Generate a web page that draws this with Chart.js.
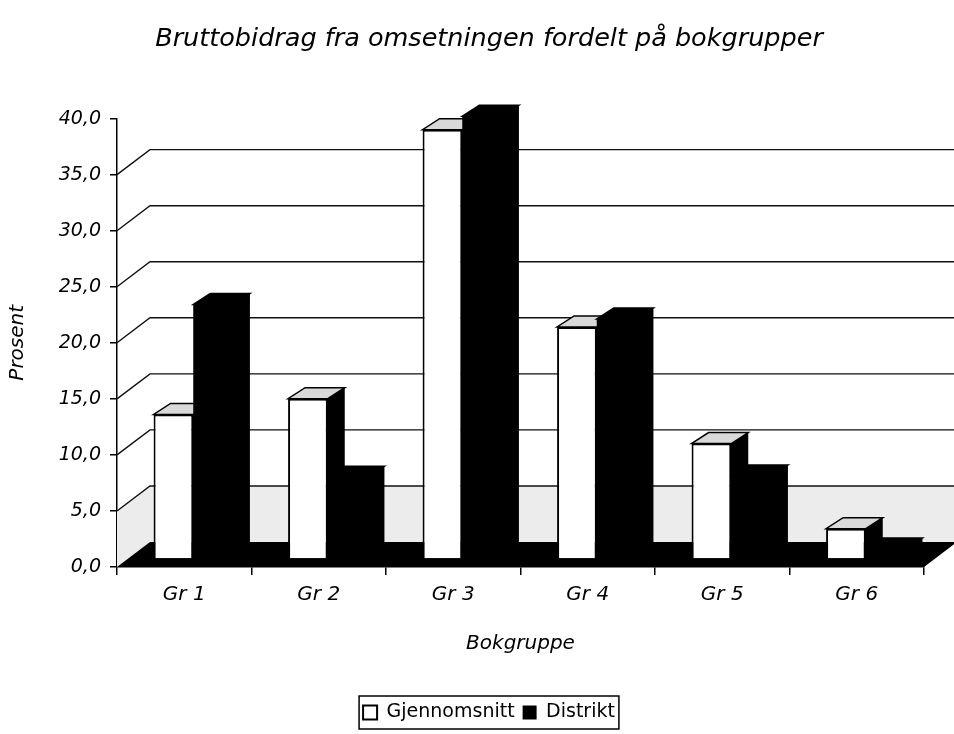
<!DOCTYPE html>
<html>
<head>
<meta charset="utf-8">
<script src="https://cdn.jsdelivr.net/npm/chart.js@4.4.1/dist/chart.umd.min.js"></script>
<style>
  html, body { margin: 0; padding: 0; background: #ffffff; }
  #wrap { width: 954px; height: 734px; }
</style>
</head>
<body>
<div id="wrap"><canvas id="c" width="954" height="734"></canvas></div>
<script>
const categories = ['Gr 1', 'Gr 2', 'Gr 3', 'Gr 4', 'Gr 5', 'Gr 6'];
const gjennomsnitt = [12.9, 14.3, 38.3, 20.7, 10.3, 2.7];
const distrikt = [22.7, 7.3, 39.5, 21.4, 7.4, 0.9];
const yTickLabels = ['0,0', '5,0', '10,0', '15,0', '20,0', '25,0', '30,0', '35,0', '40,0'];
const wallGridValues = [5, 10, 15, 20, 25, 30, 35];

const FONT = "'DejaVu Sans', 'Liberation Sans', sans-serif";
const WALL = { dx: 33, dy: -25 };
const BAR_SHIFT = { x: 9, y: -8 };
const FACE = { dx: 17, dy: -11 };

function drawFaces(chart, index) {
  const ctx = chart.ctx;
  const ds = chart.data.datasets[index];
  chart.getDatasetMeta(index).data.forEach(el => {
    const p = el.getProps(['x', 'y', 'base', 'width'], true);
    const l = p.x - p.width / 2, r = p.x + p.width / 2;
    ctx.fillStyle = '#000';
    ctx.beginPath();
    ctx.moveTo(r - 1.5, p.y);
    ctx.lineTo(r + FACE.dx, p.y + FACE.dy);
    ctx.lineTo(r + FACE.dx, p.base + FACE.dy);
    ctx.lineTo(r - 1.5, p.base);
    ctx.closePath();
    ctx.fill();
    ctx.fillStyle = ds.topColor;
    ctx.strokeStyle = '#000';
    ctx.lineWidth = 1.5;
    ctx.beginPath();
    ctx.moveTo(l, p.y);
    ctx.lineTo(r, p.y);
    ctx.lineTo(r + FACE.dx, p.y + FACE.dy);
    ctx.lineTo(l + FACE.dx, p.y + FACE.dy);
    ctx.closePath();
    ctx.fill();
    ctx.stroke();
  });
}

const threeD = {
  id: 'threeD',
  beforeDatasetsDraw(chart) {
    const ctx = chart.ctx;
    const ys = chart.scales.y;
    const { left, right } = chart.chartArea;
    const y0 = ys.getPixelForValue(0);
    const y5 = ys.getPixelForValue(5);
    ctx.save();
    ctx.fillStyle = '#ececec';
    ctx.beginPath();
    ctx.moveTo(left, y5);
    ctx.lineTo(left + WALL.dx, y5 + WALL.dy);
    ctx.lineTo(right + WALL.dx, y5 + WALL.dy);
    ctx.lineTo(right + WALL.dx, y0 + WALL.dy);
    ctx.lineTo(left, y0);
    ctx.closePath();
    ctx.fill();
    ctx.strokeStyle = '#111';
    ctx.lineWidth = 1.4;
    wallGridValues.forEach(v => {
      const y = ys.getPixelForValue(v);
      ctx.beginPath();
      ctx.moveTo(left, y);
      ctx.lineTo(left + WALL.dx, y + WALL.dy);
      ctx.lineTo(right + WALL.dx, y + WALL.dy);
      ctx.stroke();
    });
    ctx.fillStyle = '#000';
    ctx.beginPath();
    ctx.moveTo(left, y0);
    ctx.lineTo(right, y0);
    ctx.lineTo(right + WALL.dx, y0 + WALL.dy);
    ctx.lineTo(left + WALL.dx, y0 + WALL.dy);
    ctx.closePath();
    ctx.fill();
    ctx.restore();
  },
  beforeDatasetDraw(chart, args) {
    chart.ctx.save();
    chart.ctx.translate(BAR_SHIFT.x, BAR_SHIFT.y);
    // Distrikt (index 1) is drawn first; paint Gjennomsnitt depth faces beneath it
    if (args.index === 1) drawFaces(chart, 0);
  },
  afterDatasetDraw(chart, args) {
    if (args.index === 1) drawFaces(chart, 1);
    chart.ctx.restore();
  }
};

const legendBorder = {
  id: 'legendBorder',
  afterDraw(chart) {
    const boxes = chart.legend && chart.legend.legendHitBoxes;
    if (!boxes || !boxes.length) return;
    let minX = Infinity, maxX = -Infinity, minY = Infinity, maxY = -Infinity;
    boxes.forEach(b => {
      minX = Math.min(minX, b.left); maxX = Math.max(maxX, b.left + b.width);
      minY = Math.min(minY, b.top); maxY = Math.max(maxY, b.top + b.height);
    });
    const ctx = chart.ctx;
    ctx.save();
    ctx.strokeStyle = '#000';
    ctx.lineWidth = 1.5;
    ctx.strokeRect(minX - 4, minY - 7, maxX - minX + 8, maxY - minY + 14);
    ctx.restore();
  }
};

new Chart(document.getElementById('c'), {
  type: 'bar',
  data: {
    labels: categories,
    datasets: [
      {
        label: 'Gjennomsnitt',
        data: gjennomsnitt,
        backgroundColor: '#ffffff',
        borderColor: '#000000',
        borderWidth: 2,
        topColor: '#d9d9d9',
        clip: false,
        categoryPercentage: 0.59,
        barPercentage: 1.0
      },
      {
        label: 'Distrikt',
        data: distrikt,
        backgroundColor: '#000000',
        borderColor: '#000000',
        borderWidth: 0,
        topColor: '#000000',
        clip: false,
        categoryPercentage: 0.59,
        barPercentage: 1.0
      }
    ]
  },
  options: {
    responsive: false,
    animation: false,
    devicePixelRatio: 1,
    layout: { padding: { left: 24, right: 0, top: 0, bottom: 2 } },
    plugins: {
      title: {
        display: true,
        text: 'Bruttobidrag fra omsetningen fordelt på bokgrupper',
        color: '#000',
        font: { family: FONT, size: 25.5, style: 'italic', weight: 'normal' },
        padding: { top: 24, bottom: 64 }
      },
      legend: {
        position: 'bottom',
        labels: {
          color: '#000',
          font: { family: FONT, size: 19 },
          boxWidth: 14,
          boxHeight: 14,
          padding: 8
        }
      },
      tooltip: { enabled: false }
    },
    scales: {
      x: {
        offset: true,
        grid: { display: true, drawOnChartArea: false, drawTicks: true, tickLength: 8, color: '#000', lineWidth: 1.5, offset: true },
        border: { display: true, color: '#000', width: 1.5 },
        ticks: { color: '#000', font: { family: FONT, size: 20, style: 'italic' }, padding: 8 },
        title: { display: true, text: 'Bokgruppe', color: '#000', font: { family: FONT, size: 20, style: 'italic' }, padding: { top: 20, bottom: 39 } },
        afterFit: s => { s.height = 128; }
      },
      y: {
        min: 0,
        max: 40,
        grid: { display: true, drawOnChartArea: false, drawTicks: true, tickLength: 7, color: '#000', lineWidth: 1.5 },
        border: { display: true, color: '#000', width: 1.5 },
        ticks: {
          stepSize: 5,
          color: '#000',
          font: { family: FONT, size: 19, style: 'italic' },
          padding: 9,
          callback: (v, i) => yTickLabels[i]
        },
        title: { display: true, text: 'Prosent', color: '#000', font: { family: FONT, size: 20, style: 'italic' }, padding: { top: -18, bottom: 0 } },
        afterFit: s => { s.width = 93; }
      },
      yR: {
        position: 'right',
        display: true,
        grid: { display: false },
        border: { display: false },
        ticks: { display: false },
        afterFit: s => { s.width = 30; }
      }
    }
  },
  plugins: [threeD, legendBorder]
});
</script>
</body>
</html>
